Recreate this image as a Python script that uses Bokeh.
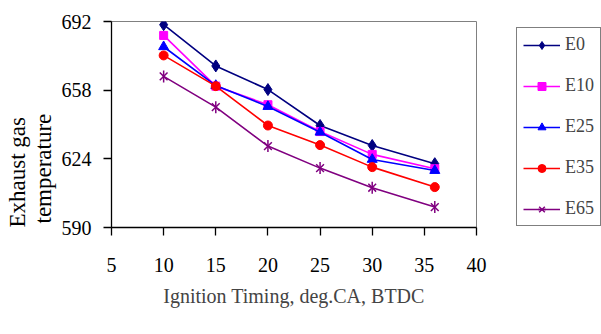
import math
from bokeh.plotting import figure
from bokeh.models import Legend, LegendItem, FixedTicker, Title, Range1d
from bokeh.embed import file_html
from bokeh.resources import INLINE

# ---- data ----
timing = [10, 15, 20, 25, 30, 36]
e0 = [690.4, 670.0, 658.3, 640.5, 630.6, 621.6]
e10 = [685.1, 660.0, 650.8, 637.5, 626.2, 619.1]
e25 = [679.5, 660.3, 649.9, 637.2, 623.7, 618.2]
e35 = [675.2, 660.0, 640.5, 630.8, 619.9, 610.0]
e65 = [664.8, 649.6, 630.3, 619.4, 609.7, 600.1]
x_ticks = [5, 10, 15, 20, 25, 30, 35, 40]
y_ticks = [590, 624, 658, 692]
series_names = ["E0", "E10", "E25", "E35", "E65"]

FONT = "Liberation Serif"

p = figure(frame_width=365, frame_height=206,
           min_border_left=111, min_border_right=125,
           min_border_top=21, min_border_bottom=99,
           x_range=Range1d(5, 40), y_range=Range1d(590, 692),
           output_backend="svg", toolbar_location=None)

p.grid.visible = False
p.outline_line_color = "#808080"
p.outline_line_width = 1
p.background_fill_color = "white"
p.border_fill_color = "white"

for ax in (p.xaxis[0], p.yaxis[0]):
    ax.axis_line_color = "black"
    ax.axis_line_width = 1.3
    ax.major_tick_line_color = "black"
    ax.major_tick_line_width = 1.3
    ax.major_tick_in = 0
    ax.major_tick_out = 8
    ax.minor_tick_line_color = None
    ax.major_label_text_font = FONT
    ax.major_label_text_font_size = "20px"
    ax.major_label_text_color = "black"

p.xaxis.ticker = FixedTicker(ticks=x_ticks)
p.yaxis.ticker = FixedTicker(ticks=y_ticks)
p.xaxis.major_label_standoff = 22
p.yaxis.major_label_standoff = 12

p.xaxis.axis_label = "Ignition Timing, deg.CA, BTDC"
p.xaxis.axis_label_text_font = FONT
p.xaxis.axis_label_text_font_style = "normal"
p.xaxis.axis_label_text_font_size = "20px"
p.xaxis.axis_label_standoff = 10

# y-axis title in two lines, left of the axis
for txt, off, so in [("temperature", 4, 5), ("Exhaust gas", 0, -6)]:
    t = Title(text=txt, align="left", offset=off,
              text_font=FONT, text_font_size="23px", text_font_style="normal",
              text_color="black", standoff=so)
    p.add_layout(t, "left")

items = []
styles = [
    (e0, "#000080", "diamond", 12),
    (e10, "#FF00FF", "square", 8),
    (e25, "#0000FF", "triangle", 10),
    (e35, "#FF0000", "circle", 9),
]
for name, (vals, col, mk, sz) in zip(series_names[:4], styles):
    r1 = p.line(timing, vals, line_color=col, line_width=1.6)
    r2 = p.scatter(timing, vals, marker=mk, size=sz, fill_color=col, line_color=col)
    items.append(LegendItem(label=name, renderers=[r1, r2]))

col = "#800080"
r1 = p.line(timing, e65, line_color=col, line_width=1.6)
r2 = p.scatter(timing, e65, marker="x", size=11, line_color=col, line_width=1.5)
r3 = p.scatter(timing, e65, marker="dash", angle=math.pi / 2, size=12, line_color=col, line_width=1.5)
items.append(LegendItem(label=series_names[4], renderers=[r1, r2, r3]))

legend = Legend(items=items, location=(40, 1))
legend.border_line_color = "black"
legend.border_line_width = 1
legend.background_fill_color = "white"
legend.background_fill_alpha = 1
legend.label_text_font = FONT
legend.label_text_font_size = "18px"
legend.glyph_width = 37
legend.glyph_height = 20
legend.label_height = 20
legend.label_standoff = 5
legend.spacing = 20
legend.padding = 6
legend.margin = 0
p.add_layout(legend, "right")

open("out.html", "w").write(file_html(p, INLINE))
